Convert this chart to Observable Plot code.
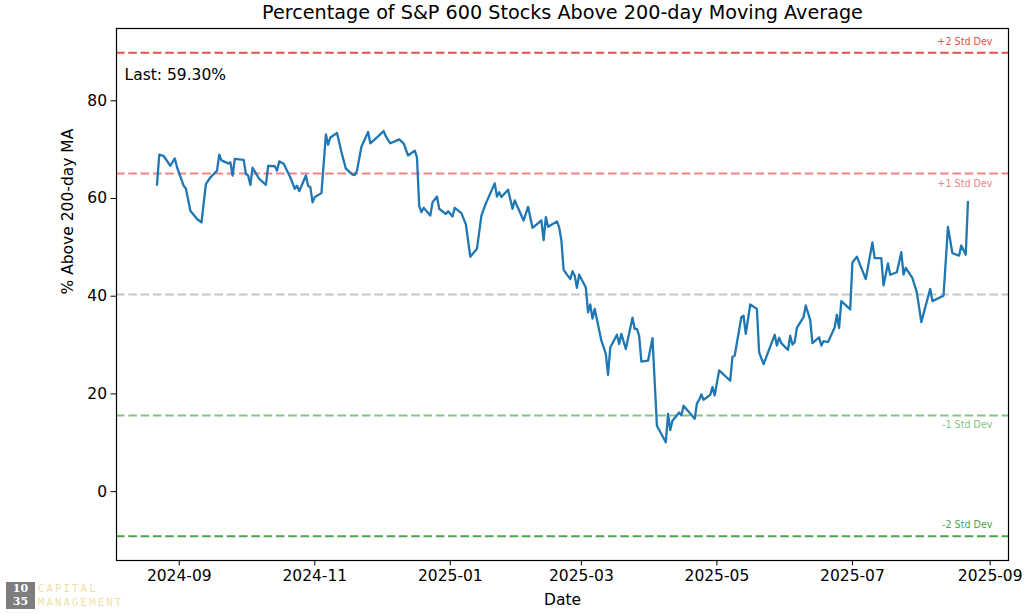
<!DOCTYPE html>
<html>
<head>
<meta charset="utf-8">
<script src="https://cdn.jsdelivr.net/npm/d3@7"></script>
<script src="https://cdn.jsdelivr.net/npm/@observablehq/plot@0.6"></script>
<style>
  html, body { margin: 0; padding: 0; background: #fff; }
  #wrap { position: relative; width: 1028px; height: 614px; overflow: hidden; }
  #logo-box { position: absolute; left: 6px; top: 582px; width: 29px; height: 27px; background: #7d7d7d;
    color: #fff; font-family: "DejaVu Serif", serif; font-weight: bold; font-size: 11px; line-height: 13px; text-align: center; }
  #logo-text { position: absolute; left: 38px; top: 582px; font-family: "DejaVu Sans Mono", monospace;
    font-size: 10.5px; line-height: 13.5px; letter-spacing: 2.2px; color: #efdfa6; }
</style>
</head>
<body>
<div id="wrap">
  <div id="chart"></div>
  <div id="logo-box">10<br>35</div>
  <div id="logo-text">CAPITAL<br>MANAGEMENT</div>
</div>
<script>
const title = "Percentage of S&P 600 Stocks Above 200-day Moving Average";
const xLabel = "Date";
const yLabel = "% Above 200-day MA";
const yTicks = [0, 20, 40, 60, 80];

const dates = [
  "2024-08-22","2024-08-23","2024-08-25","2024-08-28","2024-08-30","2024-08-31","2024-09-03","2024-09-04","2024-09-06","2024-09-09",
  "2024-09-11","2024-09-13","2024-09-15","2024-09-18","2024-09-19","2024-09-20","2024-09-23","2024-09-24","2024-09-25","2024-09-26",
  "2024-09-30","2024-10-01","2024-10-02","2024-10-03","2024-10-04","2024-10-07","2024-10-10","2024-10-11","2024-10-14","2024-10-15",
  "2024-10-16","2024-10-18","2024-10-21","2024-10-23","2024-10-24","2024-10-25","2024-10-28","2024-10-29","2024-10-30","2024-10-31",
  "2024-11-01","2024-11-04","2024-11-06","2024-11-07","2024-11-08","2024-11-11","2024-11-13","2024-11-15","2024-11-18","2024-11-19",
  "2024-11-20","2024-11-22","2024-11-25","2024-11-26","2024-11-29","2024-12-02","2024-12-03","2024-12-05","2024-12-09","2024-12-11",
  "2024-12-13","2024-12-16","2024-12-17","2024-12-18","2024-12-19","2024-12-20","2024-12-23","2024-12-24","2024-12-26","2024-12-27",
  "2024-12-30","2024-12-31","2025-01-02","2025-01-03","2025-01-06","2025-01-08","2025-01-10","2025-01-13","2025-01-15","2025-01-17",
  "2025-01-21","2025-01-22","2025-01-23","2025-01-24","2025-01-27","2025-01-29","2025-01-30","2025-02-03","2025-02-05","2025-02-07",
  "2025-02-11","2025-02-12","2025-02-13","2025-02-14","2025-02-18","2025-02-19","2025-02-20","2025-02-21","2025-02-24","2025-02-25",
  "2025-02-26","2025-02-27","2025-02-28","2025-03-03","2025-03-04","2025-03-05","2025-03-06","2025-03-07","2025-03-10","2025-03-12",
  "2025-03-13","2025-03-14","2025-03-17","2025-03-18","2025-03-19","2025-03-21","2025-03-24","2025-03-25","2025-03-26","2025-03-27",
  "2025-03-28","2025-03-31","2025-04-02","2025-04-04","2025-04-08","2025-04-09","2025-04-10","2025-04-11","2025-04-14","2025-04-15",
  "2025-04-16","2025-04-21","2025-04-22","2025-04-23","2025-04-24","2025-04-25","2025-04-28","2025-04-29","2025-04-30","2025-05-02",
  "2025-05-07","2025-05-08","2025-05-09","2025-05-12","2025-05-13","2025-05-14","2025-05-16","2025-05-19","2025-05-20","2025-05-22",
  "2025-05-27","2025-05-28","2025-05-29","2025-05-30","2025-06-02","2025-06-03","2025-06-04","2025-06-05","2025-06-06","2025-06-09",
  "2025-06-10","2025-06-12","2025-06-13","2025-06-16","2025-06-17","2025-06-18","2025-06-20","2025-06-23","2025-06-24","2025-06-25",
  "2025-06-26","2025-06-30","2025-07-01","2025-07-03","2025-07-07","2025-07-10","2025-07-11","2025-07-14","2025-07-15","2025-07-17",
  "2025-07-18","2025-07-21","2025-07-23","2025-07-24","2025-07-25","2025-07-28","2025-07-30","2025-08-01","2025-08-05","2025-08-06",
  "2025-08-11","2025-08-13","2025-08-15","2025-08-18","2025-08-19","2025-08-21","2025-08-22"
];
const values = [
  62.8,69.0,68.7,66.7,68.2,66.4,62.6,62.0,57.5,55.8,
  55.1,63.0,64.3,65.7,69.0,67.8,67.2,67.4,64.7,68.1,
  67.9,65.0,64.7,62.8,66.3,64.0,62.8,66.7,66.6,65.7,
  67.6,67.1,64.3,62.0,62.6,61.5,64.7,62.6,62.3,59.2,
  60.3,61.1,73.1,71.0,72.5,73.4,69.5,66.1,64.9,64.8,
  65.7,70.6,73.6,71.3,72.5,73.8,72.7,71.3,72.1,71.3,
  68.8,69.8,68.4,58.5,57.2,58.1,56.5,59.2,60.4,57.9,
  56.8,57.4,56.3,58.1,57.0,54.7,48.1,49.7,56.5,59.0,
  63.1,60.4,61.3,60.3,61.8,57.9,59.6,55.5,58.3,54.0,
  55.5,51.5,56.2,54.2,55.3,54.1,51.4,45.4,43.5,45.1,
  44.2,41.7,44.4,41.8,36.7,38.3,35.4,37.4,30.9,28.2,
  23.9,29.5,32.1,30.2,32.3,29.2,35.6,33.3,33.3,31.9,
  26.6,26.8,31.4,13.5,10.1,15.9,12.6,14.5,16.2,15.6,
  17.6,14.9,18.0,18.8,19.9,18.8,19.8,21.4,19.7,24.8,
  22.7,27.6,27.8,35.7,36.0,32.3,38.3,37.4,28.5,26.1,
  32.1,29.9,31.5,30.4,29.0,31.9,30.1,30.6,33.5,35.7,
  38.1,35.1,30.4,31.6,29.9,30.8,30.6,33.6,36.2,33.5,
  39.0,37.3,46.9,48.1,43.5,51.0,47.8,47.8,42.2,46.7,
  44.4,44.9,49.0,44.4,45.8,43.7,40.8,34.7,41.5,39.0,
  40.1,54.2,48.8,48.3,50.4,48.5,59.3
];

const meanValue = 40.35;
const stdValue = 24.75;
const bandMultipliers = [2, 1, 0, -1, -2];
const bandLabels = ["+2 Std Dev", "+1 Std Dev", "", "-1 Std Dev", "-2 Std Dev"];
const bandColors = ["#e44f4f", "#f08585", "#c6c6c6", "#86c286", "#4fa34f"];
const bandLabelOffsets = [2.3, -2.2, 0, -2, 2.4];

const series = dates.map((d, i) => ({date: new Date(d), value: values[i]}));
const bands = bandMultipliers.map((m, i) => ({
  level: meanValue + m * stdValue, label: bandLabels[i], color: bandColors[i], off: bandLabelOffsets[i]
}));

const t0 = series[0].date, t1 = series[series.length - 1].date;
const xPad = (t1 - t0) * 0.05;
const yMin = meanValue - 2 * stdValue, yMax = meanValue + 2 * stdValue;
const yPad = (yMax - yMin) * 0.05;
const lastText = `Last: ${values[values.length - 1].toFixed(2)}%`;

const font = "DejaVu Sans";
const chart = Plot.plot({
  width: 1028,
  height: 614,
  marginTop: 28,
  marginBottom: 54,
  marginLeft: 116,
  marginRight: 20,
  style: {fontFamily: font, fontSize: "15.5px", color: "#000", background: "#fff", overflow: "visible"},
  x: {type: "utc", domain: [new Date(+t0 - xPad), new Date(+t1 + xPad)], ticks: d3.utcMonth.every(2),
      tickFormat: d3.utcFormat("%Y-%m"), label: null, tickSize: 5.4, tickPadding: 4},
  y: {domain: [yMin - yPad, yMax + yPad], ticks: yTicks, label: null, tickSize: 5.4, tickPadding: 4},
  marks: [
    Plot.ruleY(bands, {y: "level", stroke: "color", strokeWidth: 2, strokeDasharray: "8.6,3.7"}),
    Plot.text(bands.filter(b => b.label), {y: b => b.level + b.off, text: "label", fill: "color",
      frameAnchor: "right", dx: -16, textAnchor: "end", lineAnchor: "middle", fontSize: 9.6}),
    Plot.line(series, {x: "date", y: "value", stroke: "#1f77b4", strokeWidth: 2.3, strokeLinejoin: "round"}),
    Plot.frame({stroke: "#000", strokeWidth: 1.2}),
    Plot.axisX({ticks: d3.utcMonth.every(2), tickFormat: d3.utcFormat("%Y-%m"), tickSize: 5.4, tickPadding: 4, label: null}),
    Plot.axisY({ticks: yTicks, tickSize: 5.4, tickPadding: 4, label: null}),
    Plot.text([lastText], {text: d => d, frameAnchor: "top-left", dx: 8, dy: 47, textAnchor: "start", lineAnchor: "middle", fontSize: 15.5}),
    Plot.text([title], {text: d => d, frameAnchor: "top", dy: -16, lineAnchor: "middle", fontSize: 19.2}),
    Plot.text([xLabel], {text: d => d, frameAnchor: "bottom", dy: 40, lineAnchor: "middle", fontSize: 15.5}),
    Plot.text([yLabel], {text: d => d, frameAnchor: "left", dx: -48, rotate: -90, lineAnchor: "middle", fontSize: 15.5})
  ]
});
document.getElementById("chart").appendChild(chart);
</script>
</body>
</html>
